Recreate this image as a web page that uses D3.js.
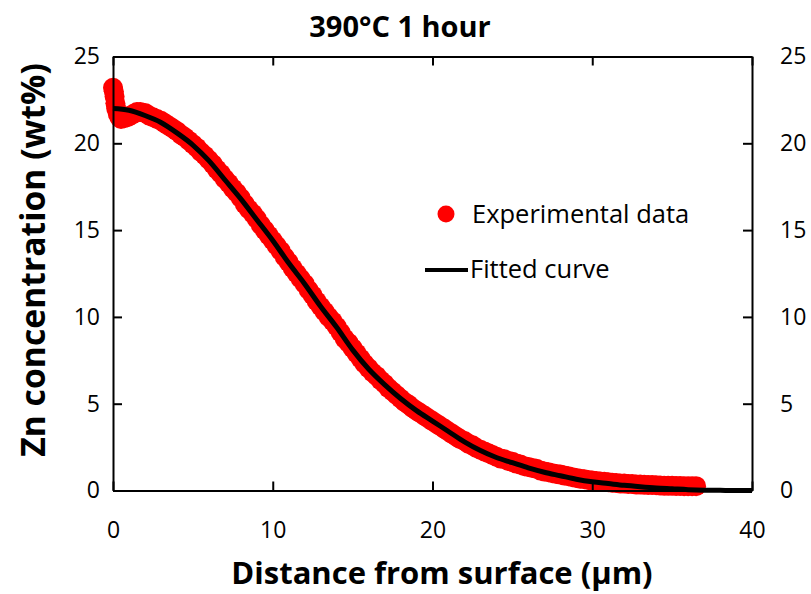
<!DOCTYPE html>
<html>
<head>
<meta charset="utf-8">
<script src="https://cdn.jsdelivr.net/npm/d3@7/dist/d3.min.js"></script>
<style>
  html, body { margin: 0; padding: 0; background: #fff; }
  svg { display: block; font-family: "Open Sans", sans-serif; }
</style>
</head>
<body>
<svg id="chart" width="811" height="594"></svg>
<script>
// Zn diffusion profile after 390°C for 1 hour
const chartTitle = "390°C 1 hour";
const xTitle = "Distance from surface (µm)";
const yTitle = "Zn concentration (wt%)";

const xTicks = [0, 10, 20, 30, 40];
const yTicks = [0, 5, 10, 15, 20, 25];

// Measured profile (distance µm, Zn wt%)
const expX = [0, 0.05, 0.1, 0.15, 0.2, 0.3, 0.4, 0.5, 0.7, 0.9, 1.1, 1.3, 1.5, 1.7,
  2.0, 2.25, 2.5, 2.75, 3, 3.25, 3.5, 3.75, 4, 4.25, 4.5, 4.75, 5, 5.25, 5.5, 5.75,
  6, 6.25, 6.5, 6.75, 7, 7.25, 7.5, 7.75, 8, 8.25, 8.5, 8.75, 9, 9.25, 9.5, 9.75,
  10, 10.25, 10.5, 10.75, 11, 11.25, 11.5, 11.75, 12, 12.25, 12.5, 12.75, 13, 13.25, 13.5, 13.75,
  14, 14.25, 14.5, 14.75, 15, 15.25, 15.5, 15.75, 16, 16.25, 16.5, 16.75, 17, 17.25, 17.5, 17.75,
  18, 18.25, 18.5, 18.75, 19, 19.25, 19.5, 19.75, 20, 20.25, 20.5, 20.75, 21, 21.25, 21.5, 21.75,
  22, 22.25, 22.5, 22.75, 23, 23.25, 23.5, 23.75, 24, 24.25, 24.5, 24.75, 25, 25.25, 25.5, 25.75,
  26, 26.25, 26.5, 26.75, 27, 27.25, 27.5, 27.75, 28, 28.25, 28.5, 28.75, 29, 29.25, 29.5, 29.75,
  30, 30.25, 30.5, 30.75, 31, 31.25, 31.5, 31.75, 32, 32.25, 32.5, 32.75, 33, 33.25, 33.5, 33.75,
  34, 34.25, 34.5, 34.75, 35, 35.25, 35.5, 35.75, 36, 36.25, 36.5];
const expY = [23.2, 23.0, 22.7, 22.3, 22.0, 21.7, 21.5, 21.4, 21.45, 21.5, 21.6, 21.7, 21.8, 21.8,
  21.75, 21.6, 21.5, 21.4, 21.3, 21.15, 21.0, 20.85, 20.7, 20.5, 20.35, 20.15, 19.95, 19.75, 19.5, 19.3,
  19.05, 18.8, 18.5, 18.25, 17.95, 17.7, 17.4, 17.15, 16.85, 16.5, 16.2, 15.95, 15.65, 15.3, 15.0, 14.7,
  14.4, 14.1, 13.8, 13.45, 13.15, 12.8, 12.5, 12.2, 11.9, 11.55, 11.25, 10.9, 10.6, 10.3, 10.0, 9.75,
  9.45, 9.1, 8.75, 8.5, 8.2, 7.9, 7.6, 7.3, 7.05, 6.8, 6.6, 6.35, 6.15, 5.9, 5.7, 5.5,
  5.3, 5.1, 4.95, 4.75, 4.6, 4.45, 4.3, 4.15, 4.0, 3.85, 3.7, 3.55, 3.4, 3.25, 3.1, 2.95,
  2.85, 2.7, 2.6, 2.45, 2.35, 2.25, 2.15, 2.05, 1.95, 1.85, 1.8, 1.7, 1.65, 1.55, 1.5, 1.4,
  1.35, 1.3, 1.25, 1.15, 1.1, 1.05, 1.0, 0.95, 0.92, 0.87, 0.82, 0.77, 0.72, 0.68, 0.65, 0.61,
  0.58, 0.55, 0.52, 0.5, 0.48, 0.45, 0.43, 0.41, 0.4, 0.38, 0.37, 0.35, 0.34, 0.33, 0.32, 0.31,
  0.3, 0.29, 0.28, 0.27, 0.27, 0.26, 0.26, 0.25, 0.25, 0.25, 0.25];

// Fitted curve (distance µm, Zn wt%)
const fitX = [0, 1, 2, 3, 4, 5, 6, 7, 8, 9, 10, 11, 12, 13, 14, 15, 16, 17, 18, 19, 20,
  21, 22, 23, 24, 25, 26, 27, 28, 29, 30, 31, 32, 33, 34, 35, 36, 37, 38, 39, 40];
const fitY = [22.0, 21.9, 21.6, 21.2, 20.6, 19.9, 19.0, 17.9, 16.8, 15.6, 14.4, 13.1, 11.9,
  10.6, 9.4, 8.1, 7.0, 6.1, 5.3, 4.6, 4.0, 3.4, 2.8, 2.3, 1.9, 1.6, 1.3, 1.05, 0.85, 0.65,
  0.5, 0.4, 0.3, 0.22, 0.15, 0.1, 0.05, 0.02, 0.01, 0, 0];

const legendLabels = ["Experimental data", "Fitted curve"];

const svg = d3.select("#chart");
const plot = { left: 113, right: 752, top: 56.5, bottom: 490.5 };

const x = d3.scaleLinear().domain([0, 40]).range([plot.left, plot.right]);
const y = d3.scaleLinear().domain([0, 25]).range([plot.bottom, plot.top]);

const tickLen = 9;
const tickFont = 23;

// Experimental markers
const pts = expX.map((d, i) => [d, expY[i]]);
svg.append("g").selectAll("circle").data(pts).join("circle")
  .attr("cx", d => x(d[0])).attr("cy", d => y(d[1]))
  .attr("r", 10).attr("fill", "#ff0000");

// Fitted curve
const fit = fitX.map((d, i) => [d, fitY[i]]);
svg.append("path").datum(fit)
  .attr("d", d3.line().x(d => x(d[0])).y(d => y(d[1])).curve(d3.curveMonotoneX))
  .attr("fill", "none").attr("stroke", "#000").attr("stroke-width", 5)
  .attr("stroke-linejoin", "round");

// Axes with inward ticks on all four sides
function styleAxis(g) {
  g.selectAll("path.domain").attr("stroke", "#000").attr("stroke-width", 2);
  g.selectAll(".tick line").attr("stroke", "#000").attr("stroke-width", 2);
  g.selectAll(".tick text").attr("font-size", tickFont).attr("fill", "#000")
    .attr("font-family", "Open Sans");
}

const bottomAxis = d3.axisBottom(x).tickValues(xTicks).tickFormat(d3.format("d"))
  .tickSizeInner(-tickLen).tickSizeOuter(0).tickPadding(31);
svg.append("g").attr("transform", `translate(0,${plot.bottom})`).call(bottomAxis).call(styleAxis);

const topAxis = d3.axisTop(x).tickValues(xTicks).tickFormat("")
  .tickSizeInner(-tickLen).tickSizeOuter(0);
svg.append("g").attr("transform", `translate(0,${plot.top})`).call(topAxis).call(styleAxis);

const leftAxis = d3.axisLeft(y).tickValues(yTicks).tickFormat(d3.format("d"))
  .tickSizeInner(-tickLen).tickSizeOuter(0).tickPadding(13);
svg.append("g").attr("transform", `translate(${plot.left},0)`).call(leftAxis).call(styleAxis);

const rightAxis = d3.axisRight(y).tickValues(yTicks).tickFormat(d3.format("d"))
  .tickSizeInner(-tickLen).tickSizeOuter(0).tickPadding(28);
svg.append("g").attr("transform", `translate(${plot.right},0)`).call(rightAxis).call(styleAxis);

// Titles
svg.append("text").attr("x", 400).attr("y", 37).attr("text-anchor", "middle")
  .attr("font-size", 29).attr("font-weight", "bold").text(chartTitle);

svg.append("text").attr("x", 442).attr("y", 584).attr("text-anchor", "middle")
  .attr("font-size", 31).attr("font-weight", "bold").text(xTitle);

svg.append("text").attr("transform", "translate(45,260) rotate(-90)")
  .attr("text-anchor", "middle").attr("font-size", 33.7).attr("font-weight", "bold").text(yTitle);

// Legend
const lg = svg.append("g");
lg.append("circle").attr("cx", 446).attr("cy", 214).attr("r", 8.5).attr("fill", "#ff0000");
lg.append("text").attr("x", 472).attr("y", 223).attr("font-size", 25.5).text(legendLabels[0]);
lg.append("line").attr("x1", 425).attr("x2", 468).attr("y1", 270).attr("y2", 270)
  .attr("stroke", "#000").attr("stroke-width", 4);
lg.append("text").attr("x", 470).attr("y", 278).attr("font-size", 25.5).text(legendLabels[1]);
</script>
</body>
</html>
